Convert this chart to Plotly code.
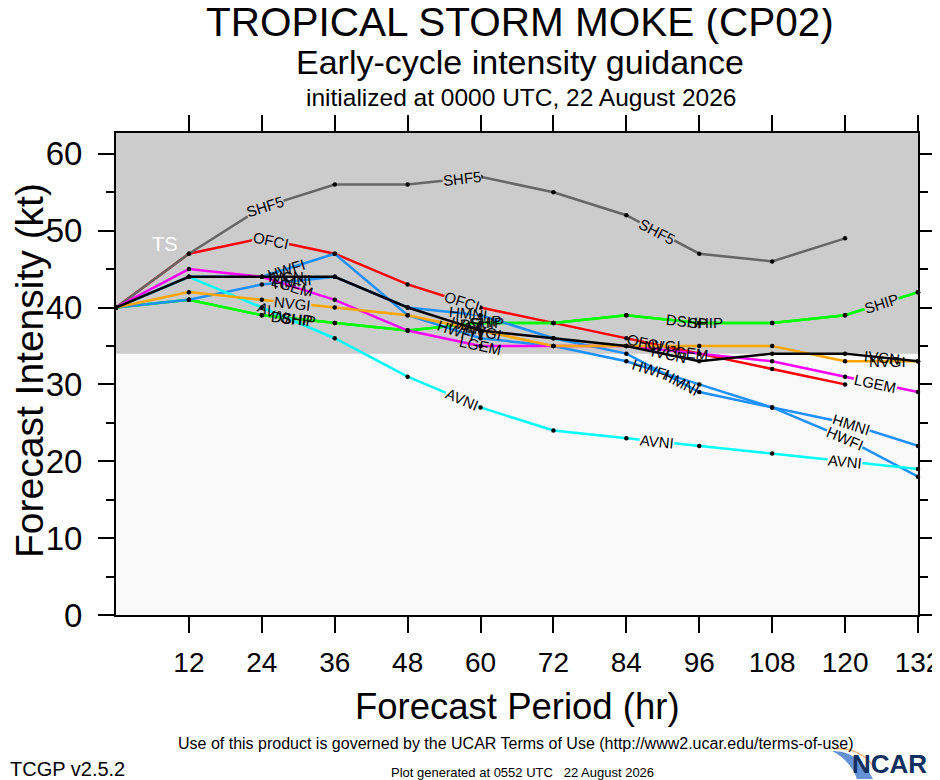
"""Early-cycle intensity guidance plot for Tropical Storm Moke (CP02)."""

import numpy as np
import plotly.graph_objects as go

# forecast hours and model intensities (kt)
HOURS = [0, 12, 24, 36, 48, 60, 72, 84, 96, 108, 120, 132]

OFCI = [40, 47, 49, 47, 43, 40, 38, 36, 34, 32, 30]
SHF5 = [40, 47, 53, 56, 56, 57, 55, 52, 47, 46, 49]
DSHP = [40, 41, 39, 38, 37, 38, 38, 39, 38, 38, 39, 42]
SHIP = [40, 41, 39, 38, 37, 38, 38, 39, 38, 38, 39, 42]
HMNI = [40, 41, 43, 44, 40, 39, 36, 34, 29, 27, 25, 22]
HWFI = [40, 44, 44, 47, 39, 36, 35, 33, 30, 27, 23, 18]
AVNI = [40, 44, 40, 36, 31, 27, 24, 23, 22, 21, 20, 19]
LGEM = [40, 45, 44, 41, 37, 35, 35, 35, 34, 33, 31, 29]
NVGI = [40, 42, 41, 40, 39, 37, 35, 35, 35, 35, 33, 33]
IVCN = [40, 44, 44, 44, 40, 37, 36, 35, 33, 34, 34, 33]

# drawing order, colours and where the in-line labels sit (hours)
MODELS = [
    ("OFCI", OFCI, "#ff0000", [25.5, 57, 87]),
    ("SHF5", SHF5, "#666666", [24.5, 57, 89]),
    ("DSHP", DSHP, "#00ff00", [29, 60, 94]),
    ("SHIP", SHIP, "#00ff00", [30, 61, 97, 126]),
    ("HMNI", HMNI, "#1e90ff", [29, 58, 93, 121]),
    ("HWFI", HWFI, "#1e90ff", [28, 56, 88, 120]),
    ("AVNI", AVNI, "#00ffff", [26, 57, 89, 120]),
    ("LGEM", LGEM, "#ff00ff", [29, 60, 94, 125]),
    ("NVGI", NVGI, "#ffa500", [29, 60.5, 90, 127]),
    ("IVCN", IVCN, "#000000", [28, 58, 91, 126]),
]

# labels that stand alone, so the line is broken behind them
GAPPED = {
    ("OFCI", 25.5), ("OFCI", 57),
    ("SHF5", 24.5), ("SHF5", 57), ("SHF5", 89),
    ("SHIP", 126), ("HMNI", 121), ("HWFI", 120),
    ("AVNI", 57), ("AVNI", 89), ("AVNI", 120),
    ("LGEM", 125), ("NVGI", 29),
}

XTICKS = [12, 24, 36, 48, 60, 72, 84, 96, 108, 120, 132]
YTICKS = [0, 10, 20, 30, 40, 50, 60]
TS_THRESHOLD = 34
Y_MAX = 62.7
X_MAX = 132

FONT = "Liberation Sans, Arial, sans-serif"
SHADE = "#cccccc"
PLOT_BG = "#f9f9f9"

# plot box in screen pixels (the page adds an 8px body margin)
PAGE_PAD = 8
BOX_L, BOX_R, BOX_T, BOX_B = 116, 918, 133, 615
PX_PER_HR = (BOX_R - BOX_L) / X_MAX
PX_PER_KT = (BOX_B - BOX_T) / Y_MAX


def px(xp):
    return (xp - BOX_L) / (BOX_R - BOX_L)


def py(yp):
    return (BOX_B - yp) / (BOX_B - BOX_T)


def note(text, x, y, size, xanchor="center", **kw):
    return dict(x=px(x), y=py(y), xref="paper", yref="paper", text=text,
                showarrow=False, xanchor=xanchor, yanchor="middle",
                borderpad=0,
                font=dict(family=kw.pop("family", FONT), size=size,
                          color=kw.pop("color", "black")), **kw)


fig = go.Figure()

for name, vals, color, _ in MODELS:
    fig.add_trace(go.Scatter(
        x=HOURS[:len(vals)], y=vals, mode="lines",
        line=dict(color=color, width=2.5),
        cliponaxis=False, showlegend=False, hoverinfo="skip",
    ))

for name, vals, color, _ in MODELS:
    fig.add_trace(go.Scatter(
        x=HOURS[:len(vals)], y=vals, mode="markers",
        marker=dict(color="black", size=4.5),
        cliponaxis=False, showlegend=False, hoverinfo="skip",
    ))

annotations = []
for name, vals, color, label_hours in MODELS:
    hrs = np.array(HOURS[:len(vals)], dtype=float)
    v = np.array(vals, dtype=float)
    for h in label_hours:
        k = min(int(np.searchsorted(hrs, h)) - 1, len(hrs) - 2)
        k = max(k, 0)
        slope = (v[k + 1] - v[k]) * PX_PER_KT / ((hrs[k + 1] - hrs[k]) * PX_PER_HR)
        yv = float(np.interp(h, hrs, v))
        ann = dict(
            x=h, y=yv, xref="x", yref="y",
            text=name, showarrow=False, borderpad=0,
            textangle=-float(np.degrees(np.arctan(slope))),
            font=dict(family=FONT, size=15, color="black"),
        )
        if (name, h) in GAPPED:
            ann["bgcolor"] = SHADE if yv > TS_THRESHOLD else PLOT_BG
        annotations.append(ann)

annotations.append(dict(
    x=8, y=48.3, xref="x", yref="y", text="TS", showarrow=False,
    font=dict(family=FONT, size=20, color="white"),
))

# titles, axis titles and footer text
annotations += [
    note("TROPICAL STORM MOKE (CP02)", 520, 22, 40.5),
    note("Early-cycle intensity guidance", 520, 62, 34),
    note("initialized at 0000 UTC, 22 August 2026", 521, 97, 24.5),
    note("Forecast Intensity (kt)", 29, 371, 39, textangle=-90),
    note("Forecast Period (hr)", 517, 706, 36.5),
    note("Use of this product is governed by the UCAR Terms of Use "
         "(http://www2.ucar.edu/terms-of-use)", 516, 743, 16),
    note("TCGP v2.5.2", 9, 769, 20, xanchor="left"),
    note("Plot generated at 0552 UTC&nbsp;&nbsp;&nbsp;22 August 2026",
         522, 772, 13),
    note("<b>NCAR</b>", 928, 764, 26, xanchor="right", color="#12305f",
         family="Liberation Sans Narrow, Liberation Sans, Arial"),
]

shapes = [
    dict(type="rect", xref="x", yref="y", x0=0, x1=X_MAX,
         y0=TS_THRESHOLD, y1=Y_MAX, fillcolor=SHADE,
         line=dict(width=0), layer="below"),
    # rough stand-in for the NCAR swoosh
    dict(type="path", xref="paper", yref="paper",
         path=(f"M {px(832)} {py(751)} Q {px(858)} {py(750)} {px(873)} {py(779)} "
               f"L {px(857)} {py(779)} Q {px(850)} {py(760)} {px(832)} {py(751)} Z"),
         fillcolor="#4a7fcf", line=dict(width=0), opacity=0.85),
    dict(type="path", xref="paper", yref="paper",
         path=(f"M {px(834)} {py(749)} Q {px(860)} {py(747)} {px(875)} {py(768)}"),
         line=dict(color="#f2b27a", width=1.5)),
]

fig.update_layout(
    width=940, height=780,
    margin=dict(l=BOX_L - PAGE_PAD, r=940 - BOX_R + PAGE_PAD,
                t=BOX_T - PAGE_PAD, b=780 - BOX_B + PAGE_PAD),
    paper_bgcolor="white", plot_bgcolor=PLOT_BG,
    font=dict(family=FONT, color="black"),
    annotations=annotations, shapes=shapes,
    xaxis=dict(
        range=[0, X_MAX], tickvals=XTICKS, ticks="outside", ticklen=16,
        tickwidth=1.5, tickcolor="black", showline=True, linewidth=2,
        linecolor="black", mirror="ticks", showgrid=False, zeroline=False,
        automargin=False, ticklabelstandoff=5,
        tickfont=dict(family=FONT, size=28, color="black"),
    ),
    yaxis=dict(
        range=[0, Y_MAX], tickvals=YTICKS, ticks="outside", ticklen=16,
        tickwidth=1.5, tickcolor="black", showline=True, linewidth=2,
        linecolor="black", mirror="ticks", showgrid=False, zeroline=False,
        automargin=False, ticklabelstandoff=9,
        tickfont=dict(family=FONT, size=33, color="black"),
        minor=dict(dtick=5, tick0=0, ticks="outside", ticklen=8,
                   tickwidth=1.5, tickcolor="black"),
    ),
)

fig.write_html("out.html")
